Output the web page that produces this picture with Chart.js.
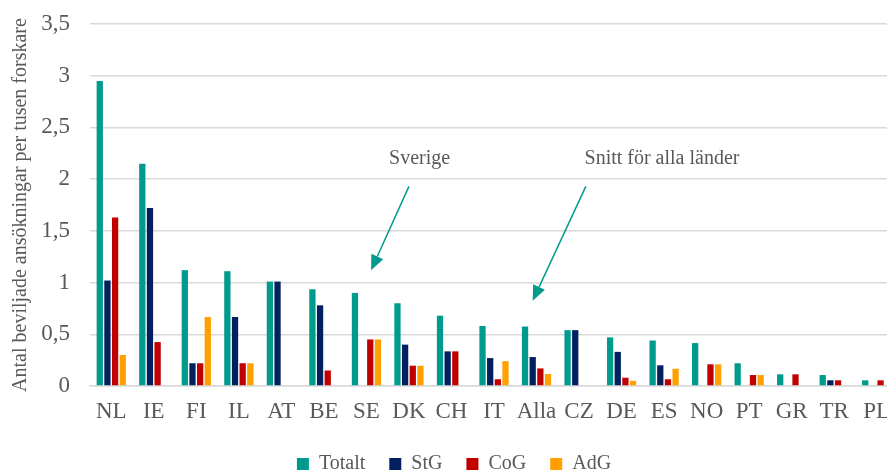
<!DOCTYPE html>
<html>
<head>
<meta charset="utf-8">
<script src="https://cdn.jsdelivr.net/npm/chart.js@4"></script>
<style>
  html, body { margin: 0; padding: 0; background: #fff; overflow: hidden; }
  #wrap { width: 898px; height: 474px; }
</style>
</head>
<body>
<div id="wrap"><canvas id="c" width="898" height="474"></canvas></div>
<script>
const countries = ["NL", "IE", "FI", "IL", "AT", "BE", "SE", "DK", "CH", "IT", "Alla", "CZ", "DE", "ES", "NO", "PT", "GR", "TR", "PL"];
const totalt = [2.95, 2.15, 1.12, 1.11, 1.01, 0.935, 0.90, 0.80, 0.68, 0.58, 0.575, 0.54, 0.47, 0.44, 0.415, 0.22, 0.113, 0.106, 0.055];
const stg    = [1.02, 1.72, 0.22, 0.667, 1.01, 0.78, null, 0.40, 0.335, 0.27, 0.28, 0.54, 0.33, 0.20, null, null, null, 0.055, null];
const cog    = [1.63, 0.425, 0.22, 0.22, null, 0.15, 0.45, 0.196, 0.335, 0.065, 0.17, null, 0.08, 0.065, 0.21, 0.106, 0.113, 0.055, 0.055];
const adg    = [0.30, null, 0.667, 0.22, null, null, 0.45, 0.196, null, 0.24, 0.116, null, 0.05, 0.167, 0.21, 0.106, null, null, null];
const yTicks = [0, 0.5, 1, 1.5, 2, 2.5, 3, 3.5];

// annotation: category, offset in categories, value for tip / tail / label
const notes = [
  { text: "Sverige", cat: "SE", tip: [0.11, 1.12], tail: [1.0, 1.93], label: [1.25, 2.2] },
  { text: "Snitt för alla länder", cat: "Alla", tip: [-0.09, 0.825], tail: [1.16, 1.93], label: [2.95, 2.2] }
];

const FONT = "'Liberation Serif', 'Times New Roman', serif";
const GREY = '#595959';
const TEAL = '#009B8D';

const arrowPlugin = {
  id: 'arrows',
  afterDatasetsDraw(chart) {
    const { ctx, scales: { x, y } } = chart;
    const step = x.getPixelForValue(1) - x.getPixelForValue(0);
    ctx.save();
    notes.forEach(n => {
      const cx = x.getPixelForValue(countries.indexOf(n.cat));
      const tx = cx + n.tip[0] * step, ty = y.getPixelForValue(n.tip[1]);
      const sx = cx + n.tail[0] * step, sy = y.getPixelForValue(n.tail[1]);
      const ang = Math.atan2(ty - sy, tx - sx);
      const headLen = 15, headW = 6.5;
      const bx = tx - headLen * Math.cos(ang), by = ty - headLen * Math.sin(ang);
      ctx.strokeStyle = TEAL;
      ctx.lineWidth = 1.5;
      ctx.beginPath();
      ctx.moveTo(sx, sy);
      ctx.lineTo(bx, by);
      ctx.stroke();
      ctx.fillStyle = TEAL;
      ctx.beginPath();
      ctx.moveTo(tx, ty);
      ctx.lineTo(bx + headW * Math.sin(ang), by - headW * Math.cos(ang));
      ctx.lineTo(bx - headW * Math.sin(ang), by + headW * Math.cos(ang));
      ctx.closePath();
      ctx.fill();
      ctx.fillStyle = GREY;
      ctx.font = '20px ' + FONT;
      ctx.textAlign = 'center';
      ctx.textBaseline = 'middle';
      ctx.fillText(n.text, cx + n.label[0] * step, y.getPixelForValue(n.label[1]));
    });
    ctx.restore();
  }
};

// nudge the legend a little to the right, like the original
const legendShift = {
  id: 'legendShift',
  afterLayout(chart) {
    chart.legend.left += 5;
    chart.legend.right += 5;
  }
};

const mk = (label, data, color) => ({
  label, data, backgroundColor: color, borderWidth: 0,
  categoryPercentage: 0.72, barPercentage: 0.82
});

new Chart(document.getElementById('c'), {
  type: 'bar',
  data: {
    labels: countries,
    datasets: [
      mk('Totalt', totalt, TEAL),
      mk('StG', stg, '#002060'),
      mk('CoG', cog, '#C00000'),
      mk('AdG', adg, '#FFA000')
    ]
  },
  options: {
    responsive: false,
    animation: false,
    layout: { padding: { top: 24, left: 0, right: 0, bottom: -10 } },
    plugins: {
      legend: {
        position: 'bottom',
        labels: {
          color: GREY,
          font: { size: 20, family: FONT },
          boxWidth: 12, boxHeight: 12,
          padding: 24
        }
      },
      tooltip: { enabled: false }
    },
    scales: {
      x: {
        afterFit: s => { s.height = 44; },
        grid: { display: false },
        border: { color: '#D9D9D9', width: 1.5 },
        ticks: {
          color: GREY, font: { size: 23, family: FONT }, padding: 4,
          maxRotation: 0, minRotation: 0, autoSkip: false
        }
      },
      y: {
        min: 0, max: 3.5,
        afterFit: s => { s.width = 90; s.paddingTop = 14; s.paddingBottom = 14; },
        afterBuildTicks: s => { s.ticks = yTicks.map(v => ({ value: v })); },
        grid: { color: '#D9D9D9', lineWidth: 1.5, drawTicks: false },
        border: { display: false },
        ticks: {
          color: GREY, font: { size: 23, family: FONT }, padding: 20,
          callback: v => String(v).replace('.', ',')
        },
        title: {
          display: true,
          text: 'Antal beviljade ansökningar per tusen forskare',
          color: GREY,
          font: { size: 20, family: FONT },
          padding: { top: 9, bottom: 0 }
        }
      }
    }
  },
  plugins: [arrowPlugin, legendShift]
});
</script>
</body>
</html>
